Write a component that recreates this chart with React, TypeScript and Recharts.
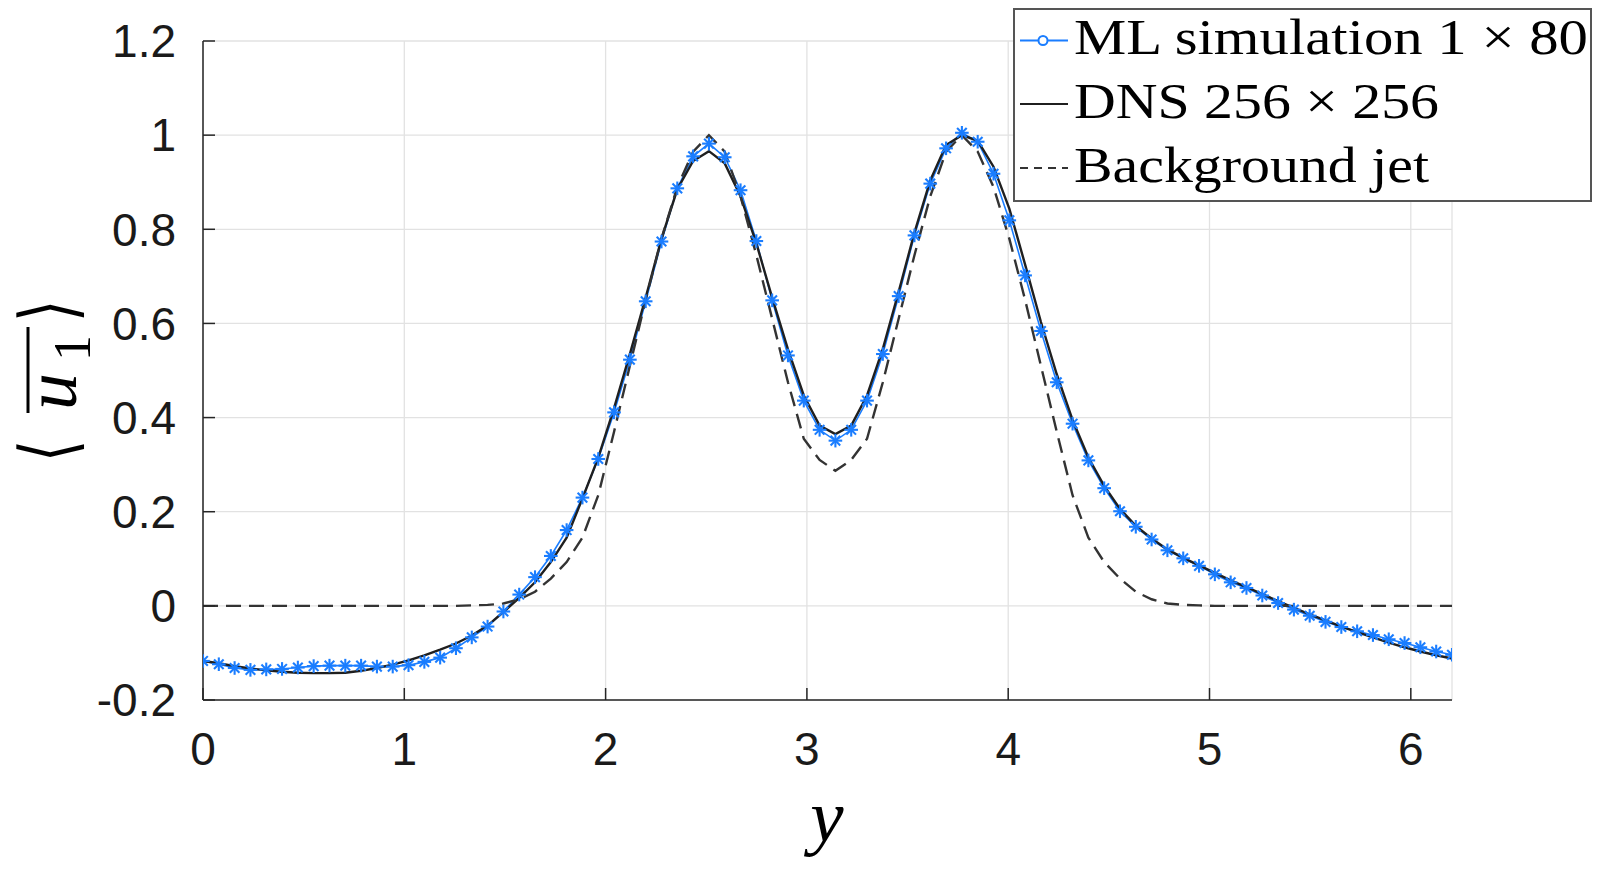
import React from 'react';
import { LineChart, Line, XAxis, YAxis, CartesianGrid, Legend } from 'recharts';

// ML grid: 80 points on [0, 2π)
const gridPoints = 80;
const gridX: number[] = Array.from({ length: gridPoints }, (_, k) => (2 * Math.PI * k) / gridPoints);

const mlValues: number[] = [
  -0.117, -0.124, -0.132, -0.136, -0.135, -0.134, -0.131, -0.128, -0.127, -0.127,
  -0.127, -0.129, -0.129, -0.126, -0.119, -0.110, -0.090, -0.067, -0.044, -0.012,
  0.024, 0.061, 0.106, 0.161, 0.230, 0.312, 0.411, 0.523, 0.647, 0.774,
  0.887, 0.955, 0.982, 0.953, 0.883, 0.775, 0.649, 0.532, 0.436, 0.374,
  0.351, 0.374, 0.436, 0.535, 0.658, 0.787, 0.897, 0.972, 1.005, 0.986,
  0.918, 0.819, 0.702, 0.584, 0.475, 0.387, 0.309, 0.250, 0.201, 0.168,
  0.141, 0.118, 0.101, 0.085, 0.067, 0.050, 0.038, 0.022, 0.006, -0.008,
  -0.021, -0.034, -0.045, -0.054, -0.062, -0.071, -0.079, -0.088, -0.097, -0.104,
];

const dnsValues: number[] = [
  -0.117, -0.122, -0.128, -0.133, -0.137, -0.140, -0.142, -0.143, -0.143, -0.142,
  -0.138, -0.132, -0.125, -0.116, -0.105, -0.093, -0.080, -0.063, -0.042, -0.013,
  0.017, 0.050, 0.093, 0.145, 0.228, 0.315, 0.420, 0.535, 0.655, 0.780,
  0.885, 0.945, 0.966, 0.940, 0.870, 0.770, 0.655, 0.545, 0.447, 0.383,
  0.365, 0.383, 0.447, 0.546, 0.667, 0.793, 0.904, 0.979, 1.000, 0.988,
  0.933, 0.844, 0.725, 0.603, 0.492, 0.395, 0.315, 0.255, 0.206, 0.170,
  0.143, 0.120, 0.102, 0.086, 0.070, 0.054, 0.040, 0.025, 0.010, -0.004,
  -0.018, -0.031, -0.044, -0.056, -0.067, -0.078, -0.088, -0.097, -0.105, -0.112,
];

const jetValues: number[] = [
  0, 0, 0, 0, 0, 0, 0, 0, 0, 0,
  0, 0, 0, 0, 0, 0, 0, 0.001, 0.002, 0.005,
  0.014, 0.030, 0.058, 0.093, 0.145, 0.235, 0.370, 0.510, 0.650, 0.780,
  0.890, 0.965, 1.000, 0.965, 0.870, 0.745, 0.610, 0.475, 0.355, 0.310,
  0.287, 0.310, 0.355, 0.475, 0.610, 0.745, 0.870, 0.965, 1.000, 0.965,
  0.890, 0.780, 0.650, 0.510, 0.370, 0.235, 0.145, 0.093, 0.058, 0.030,
  0.014, 0.005, 0.002, 0.001, 0, 0, 0, 0, 0, 0,
  0, 0, 0, 0, 0, 0, 0, 0, 0, 0,
];

const xTicks = [0, 1, 2, 3, 4, 5, 6];
const yTicks = [-0.2, 0, 0.2, 0.4, 0.6, 0.8, 1, 1.2];
const legendLabels = ['ML simulation 1 \u00d7 80', 'DNS 256 \u00d7 256', 'Background jet'];

const rows = gridX.map((x, i) => ({ x, ml: mlValues[i], dns: dnsValues[i], jet: jetValues[i] }));
const xMax = gridX[gridX.length - 1];

const ML_COLOR = '#1a7dff';
const DNS_COLOR = '#1f1f1f';
const JET_COLOR = '#333333';
const AXIS_COLOR = '#262626';
const TICK_FONT = { fontFamily: '"Liberation Sans", Arial, sans-serif', fontSize: 46, fill: '#1a1a1a' };

const fmt = (v: number) => String(Math.round(v * 10) / 10);

const Asterisk = (props: any) => {
  const { cx, cy, index } = props;
  if (cx == null || cy == null) return <g key={`a-${index}`} />;
  const r = 6.8;
  const d = r * 0.7071;
  return (
    <g key={`a-${index}`} stroke={ML_COLOR} strokeWidth={2.1}>
      <line x1={cx - r} y1={cy} x2={cx + r} y2={cy} />
      <line x1={cx} y1={cy - r} x2={cx} y2={cy + r} />
      <line x1={cx - d} y1={cy - d} x2={cx + d} y2={cy + d} />
      <line x1={cx - d} y1={cy + d} x2={cx + d} y2={cy - d} />
    </g>
  );
};

const LEGEND_W = 579;
const LEGEND_H = 194;
const legendRows = [
  { label: legendLabels[0], cy: 30.5, textLen: 514, kind: 'ml' },
  { label: legendLabels[1], cy: 94, textLen: 365, kind: 'dns' },
  { label: legendLabels[2], cy: 158, textLen: 355, kind: 'jet' },
];

const renderLegend = () => (
  <div
    style={{
      width: LEGEND_W,
      height: LEGEND_H,
      boxSizing: 'border-box',
      border: '2px solid #555',
      background: '#fff',
      position: 'relative',
    }}
  >
    <svg
      width={LEGEND_W - 4}
      height={LEGEND_H - 4}
      style={{ display: 'block', position: 'absolute', left: 0, top: 0, overflow: 'visible' }}
    >
      {legendRows.map((r) => (
        <g key={r.kind}>
          {r.kind === 'ml' && (
            <g>
              <line x1={5} x2={53} y1={r.cy} y2={r.cy} stroke={ML_COLOR} strokeWidth={2} />
              <circle cx={28} cy={r.cy} r={4.5} fill="#fff" stroke={ML_COLOR} strokeWidth={2} />
            </g>
          )}
          {r.kind === 'dns' && <line x1={5} x2={53} y1={r.cy} y2={r.cy} stroke={DNS_COLOR} strokeWidth={2} />}
          {r.kind === 'jet' && (
            <line x1={5} x2={53} y1={r.cy} y2={r.cy} stroke={JET_COLOR} strokeWidth={2} strokeDasharray="8 6" />
          )}
          <text
            x={59}
            y={r.cy + 13.5}
            fontFamily='"Liberation Serif", "Times New Roman", serif'
            fontSize={50}
            fill="#000"
            textLength={r.textLen}
            lengthAdjust="spacingAndGlyphs"
          >
            {r.label}
          </text>
        </g>
      ))}
    </svg>
  </div>
);

const YLabel = () => (
  <g transform="translate(50,377) rotate(-90)" fill="#000">
    <text transform="translate(-74,24) scale(0.75,1)" textAnchor="middle" fontFamily='"DejaVu Serif", serif' fontSize={76}>
      {'\u27e8'}
    </text>
    <text x={-33} y={26} fontFamily='"Liberation Serif", serif' fontStyle="italic" fontSize={74}>
      u
    </text>
    <text x={16} y={40} fontFamily='"Liberation Serif", serif' fontSize={52}>
      1
    </text>
    <text transform="translate(66,24) scale(0.75,1)" textAnchor="middle" fontFamily='"DejaVu Serif", serif' fontSize={76}>
      {'\u27e9'}
    </text>
    <line x1={-36} x2={50} y1={-22} y2={-22} stroke="#000" strokeWidth={3} />
  </g>
);

const XLabel = () => (
  <text
    x={827}
    y={841}
    textAnchor="middle"
    fontFamily='"Liberation Serif", "Times New Roman", serif'
    fontStyle="italic"
    fontSize={75}
    fill="#000"
  >
    y
  </text>
);

export default function App() {
  return (
    <div style={{ width: 1592, height: 860, position: 'relative', margin: '-8px 0 0 -8px' }}>
      <LineChart
        width={1592}
        height={860}
        data={rows}
        margin={{ top: 41, right: 140, bottom: 30, left: 93 }}
      >
        <CartesianGrid stroke="#e2e2e2" strokeWidth={1.3} />
        <XAxis
          xAxisId={0}
          type="number"
          dataKey="x"
          domain={[0, xMax]}
          ticks={xTicks}
          allowDataOverflow
          height={130}
          tickSize={-12}
          tickMargin={44}
          tickFormatter={fmt}
          tick={TICK_FONT}
          stroke={AXIS_COLOR}
          strokeWidth={1.5}
          label={{ content: () => <XLabel /> }}
        />
        <XAxis
          xAxisId="top"
          orientation="top"
          type="number"
          dataKey="x"
          domain={[0, xMax]}
          ticks={xTicks}
          allowDataOverflow
          height={0}
          tickSize={-12}
          tickFormatter={() => ''}
          stroke={AXIS_COLOR}
          strokeWidth={1.5}
        />
        <YAxis
          yAxisId={0}
          type="number"
          domain={[-0.2, 1.2]}
          ticks={yTicks}
          allowDataOverflow
          width={110}
          tickSize={-12}
          tickMargin={39}
          tickFormatter={fmt}
          tick={TICK_FONT}
          stroke={AXIS_COLOR}
          strokeWidth={1.5}
          label={{ content: () => <YLabel /> }}
        />
        <YAxis
          yAxisId="right"
          orientation="right"
          type="number"
          domain={[-0.2, 1.2]}
          ticks={yTicks}
          allowDataOverflow
          width={0}
          tickSize={-12}
          tickFormatter={() => ''}
          stroke={AXIS_COLOR}
          strokeWidth={1.5}
        />
        <Line
          dataKey="ml"
          type="linear"
          stroke={ML_COLOR}
          strokeWidth={1.6}
          dot={Asterisk}
          activeDot={false}
          isAnimationActive={false}
        />
        <Line
          dataKey="dns"
          type="linear"
          stroke={DNS_COLOR}
          strokeWidth={2.4}
          dot={false}
          activeDot={false}
          isAnimationActive={false}
        />
        <Line
          dataKey="jet"
          type="linear"
          stroke={JET_COLOR}
          strokeWidth={2.4}
          strokeDasharray="15 8"
          dot={false}
          activeDot={false}
          isAnimationActive={false}
        />
        <Legend
          layout="horizontal"
          verticalAlign="middle"
          align="center"
          content={renderLegend}
          wrapperStyle={{ position: 'absolute', left: 1013, top: 8, width: LEGEND_W, height: LEGEND_H, bottom: 'auto', right: 'auto' }}
        />
      </LineChart>
    </div>
  );
}
